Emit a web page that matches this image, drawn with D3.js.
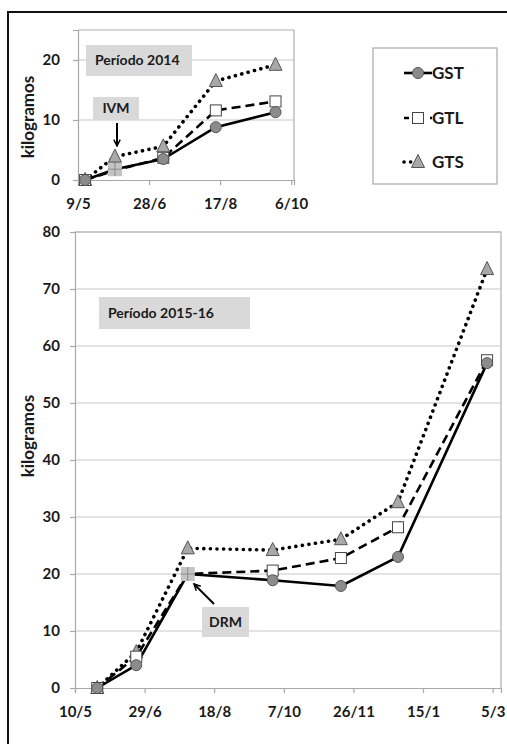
<!DOCTYPE html>
<html>
<head>
<meta charset="utf-8">
<script src="https://cdn.jsdelivr.net/npm/d3@7"></script>
<style>
  body { margin: 0; background: #fff; }
  svg text { font-family: Lato, "Open Sans", sans-serif; font-weight: 700; fill: #1a1a1a; }
</style>
</head>
<body>
<div id="chart"></div>
<script>
// 2014 period
var topDates = ["2014-05-14", "2014-06-04", "2014-07-08", "2014-08-14", "2014-09-25"];
var topGST = [0, 1.8, 3.5, 8.8, 11.3];
var topGTL = [0, 1.6, 3.7, 11.6, 13.1];
var topGTS = [0, 3.9, 5.6, 16.5, 19.2];
var topTicks = ["2014-05-09", "2014-06-28", "2014-08-17", "2014-10-06"];
var topYTicks = [0, 10, 20];

// 2015-16 period
var botDates = ["2015-05-26", "2015-06-23", "2015-07-30", "2015-09-29", "2015-11-17", "2015-12-28", "2016-03-01"];
var botGST = [0, 4, 20, 18.9, 17.9, 23, 57];
var botGTL = [0, 5.5, 20, 20.6, 22.8, 28.2, 57.5];
var botGTS = [0, 6.3, 24.5, 24.2, 26.1, 32.6, 73.5];
var botTicks = ["2015-05-10", "2015-06-29", "2015-08-18", "2015-10-07", "2015-11-26", "2016-01-15", "2016-03-05"];
var botYTicks = [0, 10, 20, 30, 40, 50, 60, 70, 80];

var seriesNames = ["GST", "GTL", "GTS"];

var parse = d3.timeParse("%Y-%m-%d");
var fmt = d3.timeFormat("%-d/%-m");

var svg = d3.select("#chart").append("svg")
  .attr("width", 507).attr("height", 744);

// outer frame
svg.append("rect")
  .attr("x", 8).attr("y", 12).attr("width", 520).attr("height", 760)
  .attr("fill", "none").attr("stroke", "#111").attr("stroke-width", 2);

var styles = {
  GTS: {dash: "0.1,6.5", width: 3.6, cap: "round"},
  GTL: {dash: "9,5", width: 2.6, cap: "butt"},
  GST: {dash: null, width: 2.6, cap: "butt"}
};

function drawMarker(g, name, x, y) {
  if (name === "GST") {
    g.append("circle").attr("cx", x).attr("cy", y).attr("r", 5.5)
      .attr("fill", "#8c8c8c").attr("stroke", "#555").attr("stroke-width", 1);
  } else if (name === "GTL") {
    g.append("rect").attr("x", x - 5.5).attr("y", y - 5.5).attr("width", 11).attr("height", 11)
      .attr("fill", "#fff").attr("stroke", "#444").attr("stroke-width", 1);
  } else {
    var s = 6.5;
    g.append("path")
      .attr("d", "M" + x + "," + (y - s - 1) + "L" + (x + s) + "," + (y + s - 1) + "L" + (x - s) + "," + (y + s - 1) + "Z")
      .attr("fill", "#a8a8a8").attr("stroke", "#555").attr("stroke-width", 1);
  }
}

function drawChart(o) {
  var x = d3.scaleTime().domain(o.xDomain).range([o.left, o.right]);
  var y = d3.scaleLinear().domain(o.yDomain).range([o.bottom, o.top]);
  var g = svg.append("g");

  // gridlines
  g.selectAll(".grid").data(o.yTicks.filter(function(d) { return d > 0; }))
    .enter().append("line")
    .attr("x1", o.left).attr("x2", o.right)
    .attr("y1", function(d) { return y(d); }).attr("y2", function(d) { return y(d); })
    .attr("stroke", "#c8c8c8").attr("stroke-width", 1.2);

  // plot border (right / top)
  g.append("path")
    .attr("d", "M" + o.left + "," + o.top + "H" + o.right + "V" + o.bottom)
    .attr("fill", "none").attr("stroke", "#b0b0b0").attr("stroke-width", 1.2);

  // axes
  var xAxis = g.append("g")
    .attr("transform", "translate(0," + o.bottom + ")")
    .call(d3.axisBottom(x).tickValues(o.xTicks.map(parse)).tickFormat(fmt).tickSize(5).tickPadding(13));
  var yAxis = g.append("g")
    .attr("transform", "translate(" + o.left + ",0)")
    .call(d3.axisLeft(y).tickValues(o.yTicks).tickSize(5).tickPadding(o.yPad));
  [xAxis, yAxis].forEach(function(a) {
    a.select(".domain").attr("stroke", "#a8a8a8").attr("stroke-width", 1.2);
    a.selectAll(".tick line").attr("stroke", "#a8a8a8").attr("stroke-width", 1.2);
    a.selectAll(".tick text").attr("font-size", 15).attr("font-family", "Lato, sans-serif")
      .attr("font-weight", 700).attr("fill", "#1a1a1a");
  });

  // y label
  g.append("text")
    .attr("transform", "translate(" + o.labelX + "," + o.labelY + ") rotate(-90)")
    .attr("text-anchor", "middle").attr("dy", "0.35em")
    .attr("font-size", 17).text("kilogramos");

  // period label
  g.append("rect").attr("x", o.box[0]).attr("y", o.box[1]).attr("width", o.box[2]).attr("height", o.box[3])
    .attr("fill", "#d9d9d9");
  g.append("text").attr("x", o.box[0] + 9).attr("y", o.box[1] + o.box[3] / 2).attr("dy", "0.35em")
    .attr("font-size", 14).text(o.title);

  var dates = o.dates.map(parse);
  var line = d3.line()
    .x(function(d) { return x(d[0]); })
    .y(function(d) { return y(d[1]); });

  ["GTS", "GTL", "GST"].forEach(function(name) {
    var vals = o.values[name];
    var st = styles[name];
    g.append("path")
      .datum(dates.map(function(d, i) { return [d, vals[i]]; }))
      .attr("d", line)
      .attr("fill", "none").attr("stroke", "#000")
      .attr("stroke-width", st.width)
      .attr("stroke-linecap", st.cap)
      .attr("stroke-linejoin", "round")
      .attr("stroke-dasharray", st.dash);
  });

  // treatment marker (gray cross)
  var mx = x(dates[o.markIdx]), my = y(o.values.GST[o.markIdx]);
  g.append("rect").attr("x", mx - 7).attr("y", my - 7).attr("width", 14).attr("height", 14)
    .attr("fill", "#c4c4c4");
  g.append("path").attr("d", "M" + (mx - 7) + "," + my + "H" + (mx + 7) + "M" + mx + "," + (my - 7) + "V" + (my + 7))
    .attr("stroke", "#8a8a8a").attr("stroke-width", 1);

  ["GTS", "GTL", "GST"].forEach(function(name) {
    dates.forEach(function(d, i) {
      if (i === o.markIdx && name !== "GTS") return;
      drawMarker(g, name, x(d), y(o.values[name][i]));
    });
  });

  return {x: x, y: y, g: g, mx: mx, my: my};
}

var defs = svg.append("defs");
defs.append("marker").attr("id", "arrow").attr("viewBox", "0 0 10 10")
  .attr("refX", 9).attr("refY", 5).attr("markerWidth", 4).attr("markerHeight", 4)
  .attr("orient", "auto")
  .append("path").attr("d", "M1,1L9,5L1,9").attr("fill", "none").attr("stroke", "#000").attr("stroke-width", 1.8);

// top chart
var t = drawChart({
  left: 78, right: 294, top: 30, bottom: 180,
  xDomain: [parse("2014-05-09"), parse("2014-10-08")],
  yDomain: [0, 25],
  xTicks: topTicks, yTicks: topYTicks, yPad: 13,
  dates: topDates,
  values: {GST: topGST, GTL: topGTL, GTS: topGTS},
  markIdx: 1,
  labelX: 28, labelY: 117,
  box: [86, 45, 106, 31], title: "Período 2014"
});
t.g.append("rect").attr("x", 93).attr("y", 97).attr("width", 46).attr("height", 23).attr("fill", "#d9d9d9");
t.g.append("text").attr("x", 116).attr("y", 108.5).attr("dy", "0.35em").attr("text-anchor", "middle")
  .attr("font-size", 14).text("IVM");
t.g.append("line").attr("x1", 117).attr("y1", 123).attr("x2", 117).attr("y2", 146)
  .attr("stroke", "#000").attr("stroke-width", 2).attr("marker-end", "url(#arrow)");

// bottom chart
var b = drawChart({
  left: 75, right: 501, top: 232, bottom: 688,
  xDomain: [parse("2015-05-10"), parse("2016-03-11")],
  yDomain: [0, 80],
  xTicks: botTicks, yTicks: botYTicks, yPad: 10,
  dates: botDates,
  values: {GST: botGST, GTL: botGTL, GTS: botGTS},
  markIdx: 2,
  labelX: 28, labelY: 436,
  box: [99, 297, 151, 32], title: "Período 2015-16"
});
b.g.append("rect").attr("x", 202).attr("y", 607).attr("width", 47).attr("height", 30).attr("fill", "#d9d9d9");
b.g.append("text").attr("x", 225.5).attr("y", 622).attr("dy", "0.35em").attr("text-anchor", "middle")
  .attr("font-size", 14).text("DRM");
b.g.append("line").attr("x1", 214).attr("y1", 604).attr("x2", 194).attr("y2", 584)
  .attr("stroke", "#000").attr("stroke-width", 2).attr("marker-end", "url(#arrow)");

// legend
var leg = svg.append("g");
leg.append("rect").attr("x", 373).attr("y", 48).attr("width", 124).attr("height", 136)
  .attr("fill", "#fff").attr("stroke", "#a8a8a8").attr("stroke-width", 1.2);
var legY = [73, 118, 162];
seriesNames.forEach(function(name, i) {
  var st = styles[name];
  leg.append("line").attr("x1", 404).attr("x2", name === "GTS" ? 418 : 432).attr("y1", legY[i]).attr("y2", legY[i])
    .attr("stroke", "#000").attr("stroke-width", st.width)
    .attr("stroke-linecap", st.cap).attr("stroke-dasharray", name === "GTL" ? "5,8" : st.dash);
  drawMarker(leg, name, 418, legY[i]);
  leg.append("text").attr("x", 432).attr("y", legY[i]).attr("dy", "0.35em")
    .attr("font-size", 17).text(name);
});
</script>
</body>
</html>
